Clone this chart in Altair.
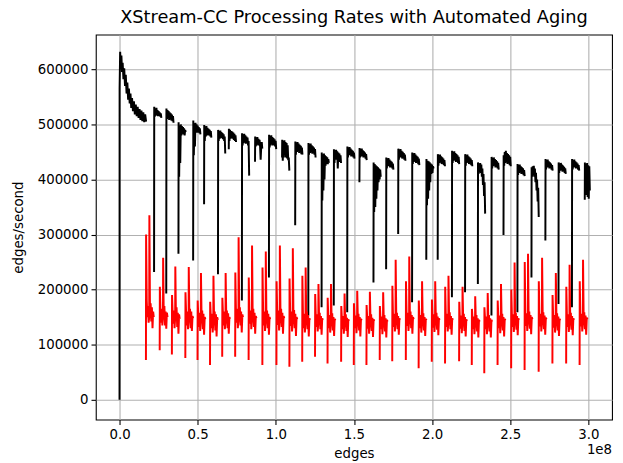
import altair as alt
import pandas as pd

# ---- data (x in millions of edges, y in thousands of edges/second) ----
init_x = [0, 0.05, 0.4, 0.8, 1.2, 1.6, 2.0, 2.5, 3.0, 3.5, 4.0, 4.5, 5.0, 5.5, 6.0, 6.5, 7.0,
          7.5, 8.0, 8.6, 9.2, 9.8, 10.4, 11.0, 11.6, 12.2, 12.8, 13.4, 14.0, 14.6, 15.2, 15.8, 16.4, 17.0]
init_y = [0, 566, 632, 605, 625, 595, 612, 582, 602, 570, 590, 556, 576, 545, 565, 538, 556,
          530, 548, 524, 542, 518, 536, 515, 532, 512, 528, 508, 525, 506, 522, 504, 518, 505]

black_x0 = [22.1, 29.9, 37.7, 47.1, 54.1, 63.0, 69.9, 78.3, 86.7, 95.6, 104.0, 112.4, 120.8, 129.3,
            137.1, 145.7, 153.5, 162.5, 170.6, 178.3, 187.2, 196.3, 203.6, 212.7, 221.1, 229.3,
            238.0, 245.7, 254.6, 263.6, 272.5, 280.9, 289.5, 297.7]
black_dx = [0, 0.1, 0.45, 0.8, 1.15, 1.5, 1.85, 2.2, 2.55, 2.9, 3.25, 3.6, 3.95, 4.3, 4.65]
black_y = [
    [232, 532, 514, 528, 516, 530, 518, 526, 515, 524, 517, 522, 514, 520, 512],
    [193, 529, 510, 526, 512, 524, 508, 522, 510, 520, 507, 518, 506, 515, 503],
    [265, 504, 405, 498, 430, 500, 480, 497, 485, 495, 482, 493, 480, 490, 486],
    [253, 507, 444, 502, 460, 503, 488, 500, 485, 498, 487, 495, 484, 493, 482],
    [355, 499, 470, 496, 478, 497, 482, 494, 480, 492, 483, 490, 478, 488, 476],
    [228, 490, 470, 488, 474, 489, 476, 486, 475, 484, 473, 482, 470, 478, 447],
    [455, 492, 470, 490, 474, 488, 476, 487, 474, 485, 472, 483, 470, 480, 468],
    [180, 484, 462, 482, 466, 483, 468, 480, 465, 478, 466, 476, 462, 470, 407],
    [432, 478, 460, 476, 462, 477, 464, 474, 462, 472, 460, 436, 458, 468, 456],
    [222, 481, 458, 479, 462, 480, 465, 477, 462, 475, 463, 473, 460, 470, 455],
    [440, 472, 434, 470, 440, 471, 445, 468, 440, 466, 438, 462, 435, 440, 416],
    [317, 469, 445, 467, 450, 468, 452, 465, 448, 463, 450, 461, 446, 458, 445],
    [153, 466, 445, 464, 448, 465, 450, 462, 447, 460, 448, 458, 445, 455, 440],
    [168, 449, 362, 446, 380, 447, 400, 444, 425, 442, 430, 440, 428, 437, 430],
    [171, 455, 430, 453, 436, 454, 438, 451, 420, 449, 435, 447, 432, 444, 430],
    [159, 460, 440, 458, 444, 459, 446, 456, 442, 454, 443, 452, 440, 449, 438],
    [395, 457, 440, 455, 442, 456, 444, 453, 440, 451, 442, 449, 438, 446, 435],
    [213, 431, 341, 428, 350, 426, 365, 424, 380, 422, 395, 420, 400, 418, 405],
    [237, 440, 420, 438, 424, 439, 426, 436, 422, 434, 424, 432, 420, 429, 418],
    [301, 456, 436, 454, 440, 455, 442, 452, 438, 450, 440, 448, 436, 445, 434],
    [177, 449, 428, 447, 432, 448, 434, 445, 430, 443, 432, 441, 428, 438, 426],
    [254, 437, 353, 434, 365, 433, 380, 431, 395, 429, 410, 427, 412, 424, 420],
    [254, 446, 425, 444, 430, 445, 432, 442, 428, 440, 430, 438, 426, 435, 424],
    [186, 452, 430, 450, 434, 451, 436, 448, 432, 446, 434, 444, 430, 441, 428],
    [195, 446, 425, 444, 430, 445, 432, 442, 428, 440, 430, 438, 426, 435, 424],
    [210, 431, 410, 429, 414, 430, 412, 427, 405, 420, 390, 410, 370, 395, 338],
    [153, 441, 420, 439, 424, 440, 426, 437, 422, 435, 424, 433, 420, 430, 418],
    [299, 444, 425, 450, 430, 452, 432, 448, 428, 446, 430, 444, 426, 441, 424],
    [159, 428, 408, 426, 412, 427, 414, 424, 410, 422, 412, 420, 408, 417, 406],
    [222, 422, 405, 424, 410, 425, 405, 420, 395, 412, 380, 400, 360, 385, 332],
    [289, 437, 418, 435, 422, 436, 424, 433, 420, 431, 422, 429, 418, 426, 416],
    [174, 431, 412, 429, 416, 430, 418, 427, 414, 425, 416, 423, 412, 420, 410],
    [168, 437, 418, 435, 422, 436, 424, 433, 420, 431, 422, 429, 418, 426, 416],
    [363, 431, 380, 428, 372, 430, 368, 426, 365, 424, 380],
]

red_x0 = [16.9, 25.7, 33.5, 42.1, 49.9, 57.9, 65.7, 74.0, 82.6, 91.4, 100.4, 108.7, 116.9, 125.1,
          133.1, 141.8, 149.9, 158.0, 166.5, 174.5, 183.2, 191.4, 199.8, 208.3, 217.3, 225.4,
          233.4, 241.9, 250.6, 259.2, 268.2, 277.0, 285.8, 294.4]
red_dx = [0, 0.1, 0.5, 0.9, 1.3, 1.7, 2.1, 2.2, 2.6, 3.0, 3.4, 3.8, 4.2, 4.6, 5.0]
red_y = [
    [72, 300, 180, 150, 170, 140, 150, 335, 153, 175, 142, 168, 130, 160, 150],
    [90, 205, 160, 140, 165, 135, 150, 258, 150, 170, 135, 160, 129, 158, 150],
    [82, 190, 155, 138, 162, 130, 148, 242, 148, 168, 132, 158, 120, 155, 147],
    [76, 195, 158, 135, 160, 128, 145, 241, 150, 165, 130, 160, 125, 152, 148],
    [72, 180, 152, 132, 158, 125, 145, 230, 148, 162, 128, 156, 118, 150, 146],
    [63, 178, 150, 130, 156, 122, 140, 225, 146, 160, 126, 155, 115, 150, 145],
    [78, 185, 155, 135, 160, 128, 142, 230, 150, 162, 130, 157, 120, 150, 147],
    [78, 231, 160, 140, 165, 130, 145, 295, 152, 168, 135, 160, 122, 155, 150],
    [72, 222, 158, 138, 162, 128, 145, 280, 150, 165, 132, 158, 120, 152, 148],
    [63, 240, 155, 135, 160, 125, 142, 269, 148, 162, 130, 156, 118, 150, 146],
    [63, 215, 158, 136, 162, 126, 144, 280, 150, 165, 132, 158, 120, 152, 148],
    [60, 220, 156, 134, 160, 124, 142, 275, 148, 163, 130, 156, 116, 150, 146],
    [69, 225, 150, 130, 156, 122, 140, 240, 146, 160, 128, 154, 115, 148, 145],
    [78, 192, 150, 132, 155, 124, 140, 210, 146, 158, 128, 152, 118, 148, 145],
    [66, 185, 148, 130, 154, 122, 138, 210, 145, 157, 126, 150, 116, 147, 144],
    [69, 170, 146, 128, 152, 120, 136, 193, 144, 155, 125, 149, 114, 146, 143],
    [63, 175, 148, 130, 153, 121, 137, 198, 145, 156, 126, 150, 115, 147, 144],
    [63, 172, 147, 129, 152, 120, 136, 196, 144, 155, 125, 149, 114, 146, 143],
    [72, 170, 146, 128, 151, 119, 135, 195, 143, 154, 124, 148, 113, 145, 142],
    [70, 207, 150, 132, 156, 124, 140, 254, 146, 158, 128, 152, 118, 148, 145],
    [72, 215, 152, 134, 158, 125, 142, 260, 148, 160, 130, 154, 120, 150, 146],
    [57, 180, 148, 130, 154, 122, 138, 215, 145, 157, 126, 150, 116, 147, 144],
    [69, 182, 149, 131, 155, 123, 139, 215, 146, 158, 127, 151, 117, 148, 145],
    [66, 205, 150, 132, 156, 124, 140, 225, 147, 159, 128, 152, 118, 148, 145],
    [70, 178, 147, 129, 153, 121, 137, 205, 144, 156, 125, 150, 115, 146, 143],
    [63, 165, 146, 128, 151, 119, 135, 188, 143, 154, 124, 148, 113, 145, 142],
    [48, 168, 146, 128, 151, 119, 135, 194, 143, 154, 124, 148, 113, 145, 142],
    [63, 180, 148, 130, 153, 121, 137, 210, 145, 156, 126, 150, 115, 147, 144],
    [57, 200, 150, 132, 155, 123, 139, 249, 146, 158, 127, 152, 117, 148, 145],
    [54, 250, 152, 134, 157, 125, 141, 265, 148, 160, 129, 154, 119, 150, 146],
    [51, 215, 151, 133, 156, 124, 140, 258, 147, 159, 128, 153, 118, 149, 146],
    [66, 190, 149, 131, 154, 122, 138, 230, 145, 157, 126, 151, 116, 147, 144],
    [66, 205, 150, 132, 155, 123, 139, 245, 146, 158, 127, 152, 117, 148, 145],
    [63, 215, 151, 133, 156, 124, 140, 254, 147, 159, 128, 153, 118, 149, 146],
]

x_ticks = [0, 0.5e8, 1.0e8, 1.5e8, 2.0e8, 2.5e8, 3.0e8]
y_ticks = [0, 100000, 200000, 300000, 400000, 500000, 600000]

# ---- build tables ----
rows = []
for i, (xv, yv) in enumerate(zip(init_x, init_y)):
    rows.append({"series": "black", "seg": "b_init", "i": i, "x": xv * 1e6, "y": yv * 1e3})
for s, (x0, ys) in enumerate(zip(black_x0, black_y)):
    for i, yv in enumerate(ys):
        rows.append({"series": "black", "seg": f"b{s}", "i": i,
                     "x": (x0 + black_dx[i]) * 1e6, "y": yv * 1e3})
black_df = pd.DataFrame(rows)

rows = []
for s, (x0, ys) in enumerate(zip(red_x0, red_y)):
    for i, yv in enumerate(ys):
        rows.append({"series": "red", "seg": f"r{s}", "i": i,
                     "x": (x0 + red_dx[i]) * 1e6, "y": yv * 1e3})
red_df = pd.DataFrame(rows)

FONT = "DejaVu Sans"
W, H = 523, 390

xscale = alt.Scale(domain=[-1.516e7, 3.1516e8], nice=False, zero=False)
yscale = alt.Scale(domain=[-36000, 663000], nice=False, zero=False)

xaxis = alt.Axis(values=x_ticks, labelExpr="format(datum.value / 1e8, '.1f')",
                 title="edges", labelFlush=False, labelOverlap=False, titlePadding=6)
yaxis = alt.Axis(values=y_ticks, format="d", title="edges/second",
                 labelOverlap=False, titlePadding=12)

black = alt.Chart(black_df).mark_line(strokeWidth=2, color="#000000", clip=True).encode(
    x=alt.X("x:Q", scale=xscale, axis=xaxis),
    y=alt.Y("y:Q", scale=yscale, axis=yaxis),
    detail="seg:N",
    order="i:Q",
)
red = alt.Chart(red_df).mark_line(strokeWidth=2, color="#ff0000", clip=True).encode(
    x=alt.X("x:Q", scale=xscale),
    y=alt.Y("y:Q", scale=yscale),
    detail="seg:N",
    order="i:Q",
)
offset_txt = alt.Chart(pd.DataFrame({"t": ["1e8"]})).mark_text(
    font=FONT, fontSize=13.5, align="right", baseline="top", color="black"
).encode(x=alt.value(W), y=alt.value(H + 24), text="t:N")

chart = alt.layer(black, red, offset_txt).properties(
    width=W, height=H,
    title=alt.TitleParams("XStream-CC Processing Rates with Automated Aging",
                          font=FONT, fontSize=18, fontWeight="normal", color="black",
                          anchor="middle", offset=8),
    autosize=alt.AutoSizeParams(type="none"),
    padding={"left": 89, "top": 24, "right": 3, "bottom": 40},
).configure_view(
    stroke="black", strokeWidth=1.1
).configure_axis(
    grid=True, gridColor="#b0b0b0", gridWidth=1.1, domain=False,
    tickColor="black", tickSize=4.9, tickWidth=1.1,
    labelFont=FONT, labelFontSize=13.5, labelColor="black", labelPadding=3,
    titleFont=FONT, titleFontSize=13.5, titleFontWeight="normal", titleColor="black",
)

chart.save("out.html", embed_options={"renderer": "svg", "actions": False})
